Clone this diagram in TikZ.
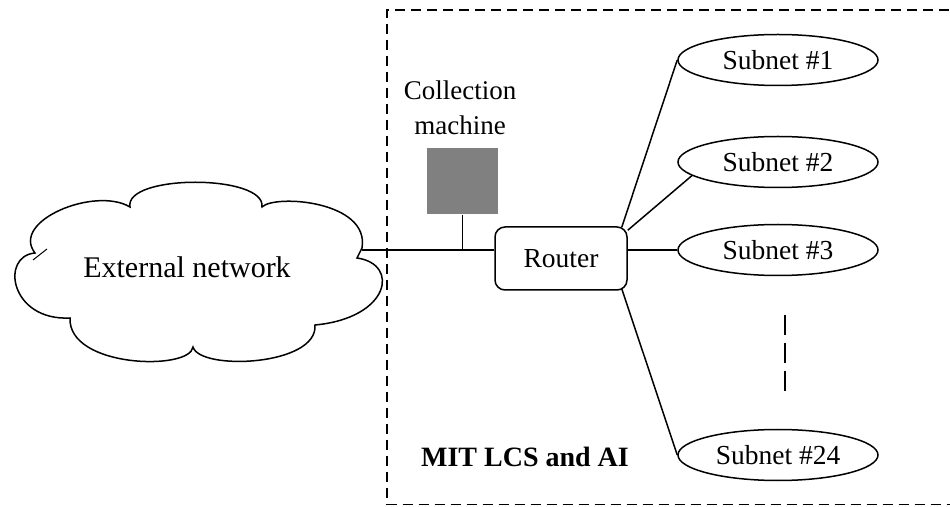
\documentclass[tikz,border=0pt]{standalone}
\usepackage{fontspec}
\setmainfont{Liberation Serif}
\usetikzlibrary{shapes.geometric}
\begin{document}
\begin{tikzpicture}[x=1pt,y=1pt,line width=1.5pt,
  txt/.style={font=\fontsize{27}{35}\selectfont, inner sep=0pt},
  subnet/.style={draw, ellipse, minimum width=200pt, minimum height=51pt,
                 inner sep=0pt, font=\fontsize{27.5}{30}\selectfont},
  routerbox/.style={draw, rounded corners=10pt, minimum width=132pt,
                    minimum height=63pt, inner sep=0pt, font=\fontsize{27.5}{30}\selectfont},
  hostbox/.style={fill=black!50, minimum width=71pt, minimum height=66pt, inner sep=0pt},
  campusline/.style={dash pattern=on 10pt off 6pt, line width=1.3pt},
  gapline/.style={dash pattern=on 20pt off 8pt, line width=1.3pt}]
\useasboundingbox (0,0) rectangle (950,506);

% campus boundary (runs off the right edge)
\begin{scope}
  \clip (0,0) rectangle (950,506);
  \draw[campusline] (965,496) -- (387,496) -- (387,1.5) -- (965,1.5);
\end{scope}

% external network cloud
\draw (130,299) .. controls (124,332) and (266,332) .. (262,299)
      .. controls (275,312) and (370,305) .. (362,258)
      -- (357,248)
      .. controls (400,242) and (390,188) .. (315,181)
      .. controls (318,140) and (200,135) .. (193,159)
      .. controls (190,135) and (68,138) .. (70,188)
      .. controls (10,185) and (0,250) .. (35,253)
      .. controls (10,285) and (95,320) .. (130,299) -- cycle;
\draw[line width=1pt] (33,246) -- (47,257);
\node[txt, font=\fontsize{30}{35}\selectfont] (ext) at (187,239) {External network};
\coordinate (cloudport) at (362,256);

% router and collection machine
\node[routerbox] (router) at (561,247.5) {Router};
\node[hostbox] (cm) at (462.5,325) {};
\node[txt, align=center] (cmlabel) at (460,398) {Collection\\machine};

\draw (cloudport) -- (router.west |- cloudport);
\draw (cm.south) -- (cm.south |- cloudport);

% subnets
\node[subnet] (s1) at (778,446) {Subnet \#1};
\node[subnet] (s2) at (778,344) {Subnet \#2};
\node[subnet] (s3) at (778,256) {Subnet \#3};
\node[subnet] (s24) at (778,51) {Subnet \#24};

\draw ([xshift=-6pt,yshift=-1pt]router.north east) -- (s1.west);
\draw ([yshift=-4pt]router.north east) -- (s2.189);
\draw (router.east |- s3.west) -- (s3.west);
\draw ([xshift=-6pt,yshift=2pt]router.south east) -- (s24.west);

\coordinate (gtop) at (785,191);
\coordinate (gbot) at (785,113);
\draw[gapline] (gtop) -- (gbot);

\node[txt, font=\bfseries\fontsize{28}{30}\selectfont] (campus) at (525,49) {MIT LCS and AI};
\end{tikzpicture}
\end{document}
